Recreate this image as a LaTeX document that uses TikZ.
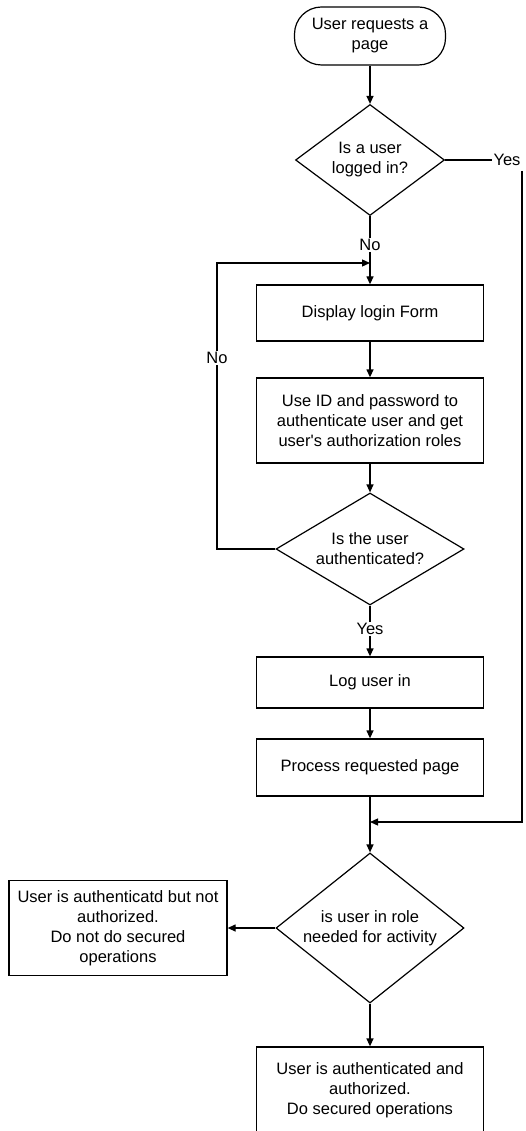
\documentclass[tikz,border=0pt]{standalone}
\usepackage{fontspec}
\setmainfont{Liberation Sans}
\usetikzlibrary{shapes.geometric,arrows.meta}
\begin{document}
\begin{tikzpicture}[x=1pt,y=-1pt,
  every node/.style={font=\fontsize{16.5}{20}\selectfont, align=center, inner sep=0pt},
  box/.style={draw, line width=1.3pt, minimum width=227pt},
  dia/.style={draw, diamond, line width=1.2pt},
  term/.style={draw, rounded corners=27pt, line width=1.2pt, minimum width=151pt, minimum height=58pt},
  lbl/.style={inner sep=1pt},
  conn/.style={line width=1.3pt},
  arr/.style={conn, -{Triangle[length=8pt,width=7pt]}}]
\useasboundingbox (0,0) rectangle (526,1131);
\clip (0,0) rectangle (526,1131);

\node[term] (start) at (370,36) {User requests a\\page};
\node[dia, aspect=1.34, minimum width=149pt, minimum height=111pt] (d1) at (370,160) {Is a user\\logged in?};
\node[lbl] (yes1) at (507,160) {Yes};
\coordinate (yesdown) at (522,171);
\node[lbl] (no1) at (370,245) {No};
\coordinate (loopin) at (370,263);
\node[box, minimum height=56pt] (b1) at (370,313) {Display login Form};
\node[box, minimum height=85pt] (b2) at (370,420.5) {Use ID and password to\\authenticate user and get\\user\textquotesingle s authorization roles};
\node[dia, aspect=1.68, minimum width=188pt, minimum height=112pt] (d2) at (370,549) {Is the user\\authenticated?};
\node[lbl] (no2) at (217,358) {No};
\node[lbl] (yes2) at (370,629) {Yes};
\node[box, minimum height=51pt] (b3) at (370,682.5) {Log user in};
\node[box, minimum height=57pt] (b4) at (370,767.5) {Process requested page};
\coordinate (merge) at (370,822);
\node[dia, aspect=1.25, minimum width=188pt, minimum height=150pt] (d3) at (370,928) {is user in role\\needed for activity};
\node[box, minimum width=218pt, minimum height=95pt] (b5) at (118,928) {User is authenticatd but not\\authorized.\\Do not do secured\\operations};
\node[box, minimum height=86pt] (b6) at (370,1090) {User is authenticated and\\authorized.\\Do secured operations};

\draw[arr] (start) -- (d1);
\draw[conn] (d1.east) -- (yes1.west);
\draw[arr] (yesdown) |- (merge);
\draw[conn] (d1.south) -- (no1.north);
\draw[arr] (no1.south) -- (b1.north);
\draw[conn] (d2.west) -| (no2.south);
\draw[arr] (no2.north) |- (loopin);
\draw[arr] (b1) -- (b2);
\draw[arr] (b2) -- (d2);
\draw[conn] (d2.south) -- (yes2.north);
\draw[arr] (yes2.south) -- (b3.north);
\draw[arr] (b3) -- (b4);
\draw[arr] (b4.south) -- (d3.north);
\draw[arr] (d3.west) -- (b5.east);
\draw[arr] (d3.south) -- (b6.north);
\end{tikzpicture}
\end{document}
